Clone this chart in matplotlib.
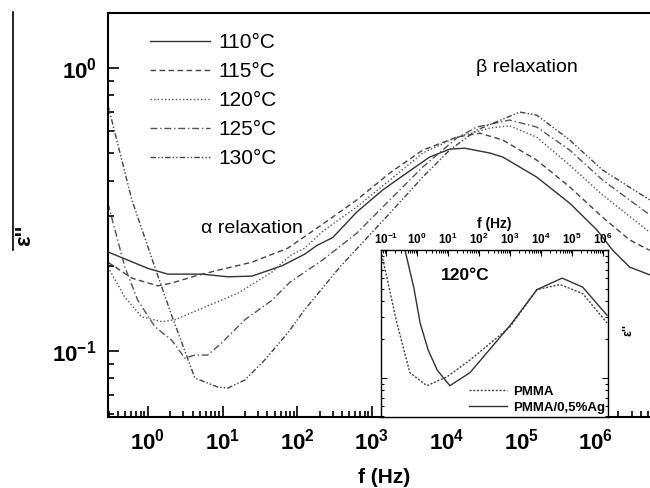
import numpy as np
import matplotlib
matplotlib.use("Agg")
import matplotlib.pyplot as plt
from matplotlib import ticker
from matplotlib.lines import Line2D

plt.rcParams['font.family'] = ['Liberation Sans', 'DejaVu Sans']
plt.rcParams['mathtext.fontset'] = 'custom'
plt.rcParams['mathtext.bf'] = 'Liberation Sans:bold'
plt.rcParams['mathtext.rm'] = 'Liberation Sans'

# main plot data, f in Hz
f110 = [0.292, 1.0, 1.85, 5.28, 11.8, 24.7, 62.2, 126, 183, 300, 628, 1400, 2930, 5960,
        1.1e4, 1.75e4, 3.8e4, 5.65e4, 1.61e5, 4.46e5, 1.03e6, 1.68e6, 2.83e6, 5.25e6]
e110 = [0.224, 0.196, 0.187, 0.187, 0.183, 0.184, 0.200, 0.220, 0.236, 0.252, 0.310, 0.371, 0.426, 0.485,
        0.517, 0.521, 0.501, 0.485, 0.412, 0.333, 0.268, 0.227, 0.198, 0.186]

f115 = [0.292, 0.611, 1.36, 2.1, 4.26, 8.65, 24.7, 74.9, 220, 628, 1740, 4800,
        1.37e4, 2.78e4, 5.65e4, 1.61e5, 4.46e5, 1.23e6, 2.83e6, 5.25e6]
e115 = [0.206, 0.181, 0.170, 0.174, 0.184, 0.193, 0.206, 0.231, 0.281, 0.342, 0.426, 0.513,
        0.570, 0.589, 0.557, 0.473, 0.380, 0.297, 0.247, 0.227]

f120 = [0.292, 0.492, 0.831, 1.54, 2.3, 5.8, 16.0, 45.7, 79.6, 126, 220, 628, 1740, 4800,
        1.37e4, 3.8e4, 7.0e4, 1.61e5, 4.46e5, 1.23e6, 5.25e6]
e120 = [0.198, 0.155, 0.132, 0.127, 0.129, 0.143, 0.160, 0.190, 0.217, 0.231, 0.265, 0.323, 0.402, 0.501,
        0.570, 0.614, 0.625, 0.570, 0.454, 0.356, 0.263]

f125 = [0.292, 0.492, 0.734, 1.24, 2.1, 3.13, 4.26, 6.36, 9.8, 19.9, 45.7, 79.6, 220, 628, 1740, 4800,
        1.37e4, 2.54e4, 7.0e4, 1.61e5, 4.46e5, 1.23e6, 5.25e6]
e125 = [0.333, 0.198, 0.151, 0.122, 0.109, 0.0944, 0.0968, 0.0968, 0.107, 0.129, 0.151, 0.175, 0.210, 0.261,
        0.342, 0.447, 0.566, 0.619, 0.655, 0.619, 0.513, 0.402, 0.303]

f130 = [0.292, 0.611, 1.24, 2.1, 4.26, 8.65, 11.8, 19.9, 36.8, 74.9, 126, 372, 1740, 4800,
        1.1e4, 2.54e4, 9.55e4, 1.61e5, 4.46e5, 1.23e6, 5.25e6]
e130 = [0.740, 0.342, 0.198, 0.133, 0.0803, 0.0746, 0.0740, 0.0790, 0.093, 0.116, 0.140, 0.198, 0.307, 0.412,
        0.513, 0.604, 0.699, 0.682, 0.557, 0.436, 0.342]

labels = ['110°C', '115°C', '120°C', '125°C', '130°C']
main_xticks = [1, 10, 100, 1e3, 1e4, 1e5, 1e6]
main_yticks = [0.1, 1.0]

# inset data (120 C)
f_pmma = [0.074, 0.224, 0.59, 2.09, 9.3, 51, 1000, 7400, 4.1e4, 2.2e5, 1.35e6]
e_pmma = [0.912, 0.269, 0.110, 0.087, 0.102, 0.138, 0.251, 0.490, 0.537, 0.457, 0.269]
f_ag = [0.41, 0.8, 1.26, 2.3, 4.5, 11.5, 51, 182, 1000, 7400, 4.8e4, 2.2e5, 1.35e6]
e_ag = [1.0, 0.50, 0.269, 0.165, 0.115, 0.087, 0.110, 0.158, 0.257, 0.490, 0.603, 0.513, 0.309]
inset_xticks = [0.1, 1, 10, 100, 1e3, 1e4, 1e5, 1e6]

styles = [('-', '#333333'), ((0, (4, 2.5)), '#444444'), ((0, (1, 1.6)), '#555555'),
          ((0, (5, 2, 1, 2)), '#555555'), ((0, (4, 1.5, 1, 1.5, 1, 1.5)), '#444444')]


def pow_fmt(v, pos):
    return r'$\mathbf{10^{%d}}$' % int(round(np.log10(v)))


fig = plt.figure(figsize=(6.5, 4.88), dpi=100)
ax = fig.add_axes([0.166, 0.1455, 0.849, 0.8275])

curves = [(f110, e110), (f115, e115), (f120, e120), (f125, e125), (f130, e130)]
for (fx, ey), (ls, c), lab in zip(curves, styles, labels):
    ax.plot(fx, ey, linestyle=ls, color=c, lw=1.0, label=lab)

ax.set_xscale('log')
ax.set_yscale('log')
ax.set_xlim(10 ** -0.535, 10 ** 6.855)
ax.set_ylim(10 ** -1.233, 10 ** 0.194)
ax.spines['right'].set_visible(False)
for s in ['left', 'bottom', 'top']:
    ax.spines[s].set_linewidth(1.5)
ax.xaxis.set_major_locator(ticker.FixedLocator(main_xticks))
ax.xaxis.set_minor_locator(ticker.LogLocator(base=10, subs=np.arange(2, 10), numticks=20))
ax.xaxis.set_major_formatter(ticker.FuncFormatter(pow_fmt))
ax.xaxis.set_minor_formatter(ticker.NullFormatter())
ax.yaxis.set_major_locator(ticker.FixedLocator(main_yticks))
ax.yaxis.set_major_formatter(ticker.FuncFormatter(pow_fmt))
ax.yaxis.set_minor_formatter(ticker.NullFormatter())
ax.tick_params(which='both', direction='in', top=False, right=False, width=1.2)
ax.tick_params(which='major', length=8, labelsize=16, pad=8)
ax.tick_params(which='minor', length=4)
ax.set_xlabel('f (Hz)', fontsize=15, fontweight='bold', labelpad=10)

ax.legend(loc='upper left', bbox_to_anchor=(150 / 650, 1 - 33 / 488), bbox_transform=fig.transFigure,
          frameon=False, fontsize=15, handlelength=2.9, handletextpad=0.4, labelspacing=0.48,
          borderpad=0, borderaxespad=0)

ax.text(527 / 650, 1 - 68 / 488, 'β relaxation', transform=fig.transFigure, fontsize=14,
        ha='center', va='center')
ax.text(252 / 650, 1 - 229 / 488, 'α relaxation', transform=fig.transFigure, fontsize=14,
        ha='center', va='center')

# y label and the odd vertical bar at the left
fig.text(25 / 650, 1 - 235 / 488, "ε''", rotation=90, fontsize=16, fontweight='bold',
         ha='center', va='center')
fig.add_artist(Line2D([13 / 650, 13 / 650], [1 - 12 / 488, 1 - 250 / 488], color='black', lw=1.2))

# inset
ins = fig.add_axes([381 / 650, 0.1455, 227 / 650, 167 / 488])
ins.plot(f_pmma, e_pmma, linestyle=(0, (1.5, 1.2)), color='#444444', lw=1.0, label='PMMA')
ins.plot(f_ag, e_ag, '-', color='#333333', lw=1.0, label='PMMA/0,5%Ag')
ins.set_xscale('log')
ins.set_yscale('log')
ins.set_xlim(10 ** -1.161, 10 ** 6.161)
ins.set_ylim(10 ** -1.305, 1.0)
ins.xaxis.set_major_locator(ticker.FixedLocator(inset_xticks))
ins.xaxis.set_minor_locator(ticker.LogLocator(base=10, subs=np.arange(2, 10), numticks=20))
ins.xaxis.set_major_formatter(ticker.FuncFormatter(pow_fmt))
ins.xaxis.set_minor_formatter(ticker.NullFormatter())
ins.yaxis.set_major_formatter(ticker.NullFormatter())
ins.yaxis.set_minor_formatter(ticker.NullFormatter())
ins.tick_params(which='both', direction='in', top=True, bottom=False, labeltop=True, labelbottom=False,
                left=True, right=True, width=0.8)
ins.tick_params(which='major', length=4, labelsize=8.5, pad=2)
ins.tick_params(which='minor', length=2)
for s in ins.spines.values():
    s.set_linewidth(1.0)
ins.xaxis.set_label_position('top')
ins.set_xlabel('f (Hz)', fontsize=10, fontweight='bold', labelpad=3)
ins.text(0.37, 0.85, '120°C', transform=ins.transAxes, fontsize=12.5, fontweight='bold',
         ha='center', va='center')
ins.legend(loc='lower right', frameon=False, prop={'weight': 'bold', 'size': 9.5},
           handlelength=2.9, handletextpad=0.4, labelspacing=0.3, borderpad=0.1, borderaxespad=0.15)
fig.text(628 / 650, 1 - 330 / 488, "ε''", rotation=90, fontsize=9, fontweight='bold',
         ha='center', va='center')

fig.savefig('out.png', dpi=100)
